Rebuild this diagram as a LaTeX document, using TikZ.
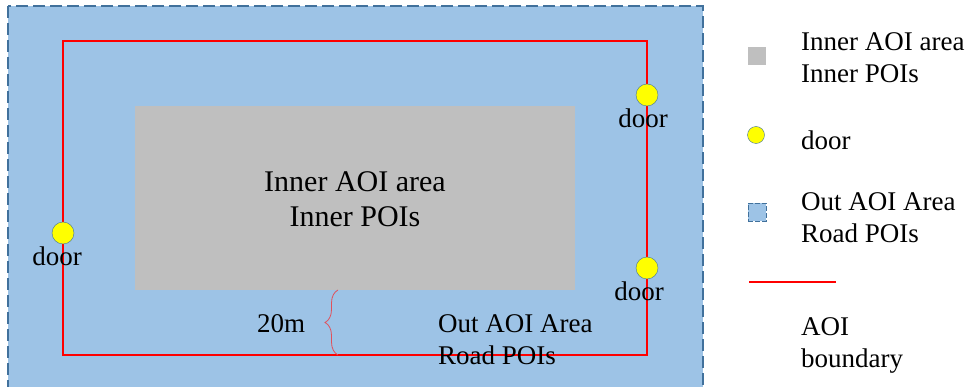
\documentclass[tikz,border=0pt]{standalone}
\usepackage{fontspec}
\setmainfont{Liberation Serif}
\usetikzlibrary{positioning,decorations.pathreplacing}
\definecolor{outblue}{RGB}{157,195,230}
\definecolor{edgeblue}{RGB}{65,113,156}
\definecolor{innergray}{RGB}{191,191,191}
\definecolor{aoired}{RGB}{255,0,0}
\definecolor{doorfill}{RGB}{255,255,0}
\definecolor{bracered}{RGB}{225,80,90}
\tikzset{
  door/.style={circle, draw=edgeblue, fill=doorfill, minimum size=22pt, inner sep=0pt},
  doorlabel/.style={font=\fontsize{27}{32}\selectfont, inner sep=0pt},
  legtext/.style={font=\fontsize{27}{32}\selectfont, align=left, inner sep=0pt, anchor=west}
}

\begin{document}
\begin{tikzpicture}[x=1pt, y=-1pt]
  \useasboundingbox (0,0) rectangle (971,387);
  % OUT AOI AREA - blue background
  \draw[fill=outblue, draw=edgeblue, line width=1.5pt, dash pattern=on 12pt off 5pt] (8,6) rectangle (703,392);
  % INNER AOI AREA - gray block
  \fill[innergray] (135,106) rectangle (575,290);
  \node[font=\fontsize{30}{35}\selectfont, align=center] (inner) at (355,199) {Inner AOI area\\Inner POIs};
  % AOI BOUNDARY - red frame
  \draw[aoired, line width=2pt] (63,41) rectangle (647,355);
  % DOORS
  \node[door] (d1) at (647,95) {};
  \node[doorlabel, below=2pt of d1, xshift=-4pt] (d1l) {door};
  \node[door] (d2) at (63,233) {};
  \node[doorlabel, below=2pt of d2, xshift=-6pt] (d2l) {door};
  \node[door] (d3) at (647,268) {};
  \node[doorlabel, below=2pt of d3, xshift=-8pt] (d3l) {door};
  % 20m gap
  \coordinate (gb) at (338,290);
  \coordinate (rb) at (338,355);
  \draw[bracered, line width=0.8pt, decorate, decoration={brace, amplitude=13pt}] (rb) -- (gb);
  \node[font=\fontsize{27}{32}\selectfont, inner sep=0pt] (gap) at (281,324) {20m};
  \node[legtext] (outtxt) at (438,340) {Out AOI Area\\Road POIs};
  % LEGEND
  \node[fill=innergray, minimum size=18pt, inner sep=0pt] (lg1) at (757,56) {};
  \node[legtext] (lt1) at (801,58) {Inner AOI area\\Inner POIs};
  \node[door, minimum size=17pt] (lg2) at (756,135) {};
  \node[legtext] (lt2) at (801,140) {door};
  \node[fill=outblue, draw=edgeblue, dash pattern=on 5pt off 2pt, minimum size=18pt, inner sep=0pt] (lg3) at (757,212) {};
  \node[legtext] (lt3) at (801,218) {Out AOI Area\\Road POIs};
  \coordinate (lg4a) at (749,282);
  \coordinate (lg4b) at (836,282);
  \draw[aoired, line width=1.5pt] (lg4a) -- (lg4b);
  \node[legtext] (lt4) at (801,345) {AOI\\boundary};
\end{tikzpicture}
\end{document}
